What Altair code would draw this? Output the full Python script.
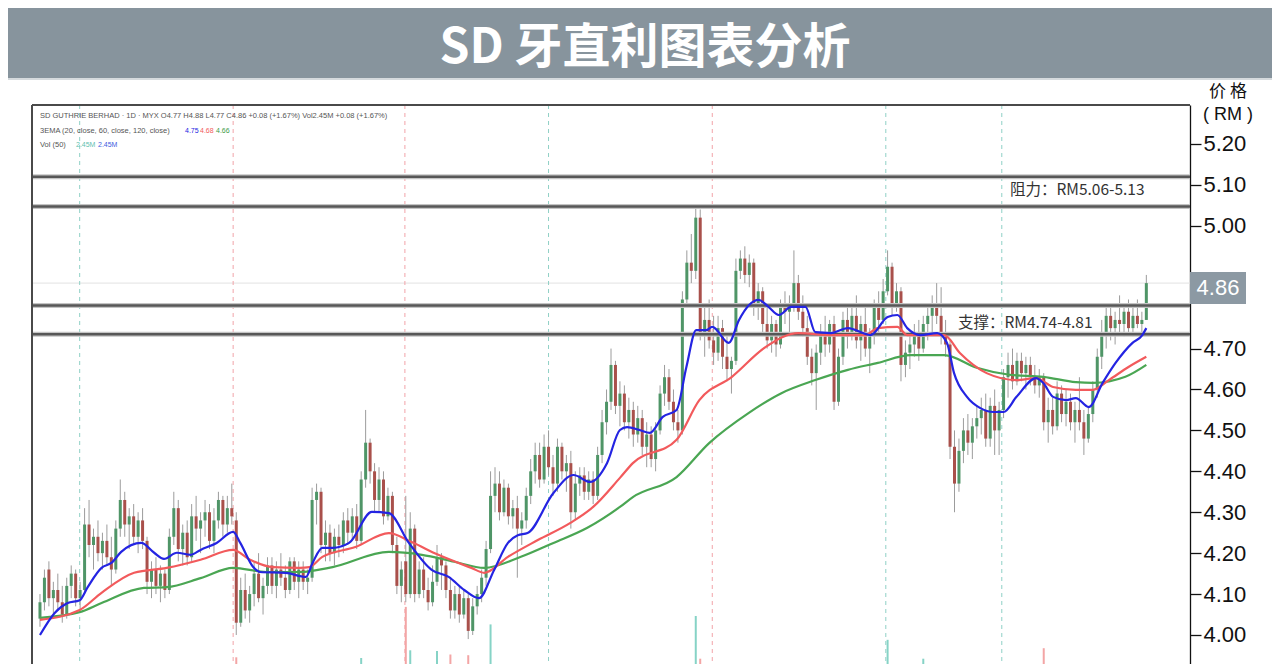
import altair as alt
import pandas as pd

# ---------------- data (prices in sen) ----------------
OPEN = [404,408,416,409,411,408,405,412,415,409,411,427,422,424,420,423,419,416,426,433,
        427,429,424,428,423,413,416,412,415,411,424,431,421,425,419,429,426,428,430,423,
        428,433,427,431,428,403,411,406,410,415,409,412,417,412,416,414,411,418,413,416,
        413,414,433,435,422,425,420,424,422,428,425,429,423,438,447,440,433,438,429,434,
        422,412,418,410,426,410,416,411,408,413,419,417,411,406,410,405,409,401,407,410,
        414,421,434,437,430,436,429,431,426,428,434,440,444,438,446,441,437,446,440,442,
        430,437,439,435,438,434,444,452,457,466,456,459,452,455,449,453,446,449,443,450,
        459,463,457,452,450,482,491,489,502,474,477,472,469,475,468,465,467,489,492,488,
        491,481,484,476,472,476,471,480,479,481,486,479,475,468,464,469,474,471,476,457,
        468,477,473,478,472,476,470,473,480,477,484,490,481,484,466,469,471,474,470,476,
        478,480,478,474,471,446,437,445,450,447,451,453,455,448,456,450,455,463,466,462,
        467,464,466,463,461,463,452,455,451,459,454,457,452,455,452,448,454,460,468,474,
        478,475,477,476,479,475,478,476,477]
HIGH = [410,416,418,413,415,412,414,417,416,413,431,433,426,428,425,427,424,428,438,435,
        431,432,430,431,424,418,419,417,416,426,435,433,427,428,432,434,430,433,432,431,
        435,434,434,437,430,414,415,412,418,420,414,419,419,418,420,417,419,419,418,418,
        416,436,437,436,428,427,426,427,430,431,431,432,440,455,448,442,441,440,436,435,
        424,418,434,430,427,418,419,414,417,422,420,418,414,412,412,411,410,409,412,416,
        423,440,441,440,438,437,433,434,430,436,443,447,447,449,450,444,448,447,444,445,
        440,441,441,440,440,446,455,460,470,467,462,461,458,457,456,455,452,451,452,461,
        466,465,460,455,484,494,498,505,504,480,482,478,478,477,473,468,492,494,495,493,
        492,486,485,480,478,477,482,484,483,494,488,483,478,470,471,476,478,477,478,470,
        479,481,480,483,478,481,475,482,484,487,494,491,486,485,472,474,476,477,478,480,
        483,486,485,477,472,450,448,453,454,453,456,458,459,458,460,457,465,469,470,469,
        469,468,468,466,465,464,458,458,462,461,460,459,457,463,455,456,462,470,477,480,
        480,479,483,481,482,480,482,479,488]
LOW = [402,406,407,404,406,403,404,409,407,406,410,419,416,418,416,417,412,415,424,424,
       421,422,420,421,410,409,410,408,409,410,422,418,417,417,418,423,420,424,421,420,
       426,424,425,427,400,402,404,403,407,408,405,410,410,409,412,409,410,411,409,411,
       410,413,427,420,418,418,417,419,420,422,423,421,422,436,437,430,430,427,428,420,
       410,408,408,409,408,409,409,406,407,412,411,409,404,404,403,404,399,400,405,408,
       412,420,430,428,429,427,426,414,422,426,432,437,436,437,439,434,435,438,435,426,
       428,434,433,433,432,433,442,449,455,454,451,450,448,446,447,444,441,441,440,449,
       456,455,450,447,449,480,486,487,472,468,470,466,467,465,462,459,466,487,486,485,
       478,477,474,470,469,468,470,476,474,479,477,473,466,461,455,466,468,469,455,456,
       466,470,472,470,467,468,464,471,474,476,483,478,479,462,463,465,468,467,469,472,
       474,476,471,468,443,430,435,442,444,443,448,449,446,446,444,444,453,458,460,461,
       462,460,461,459,458,450,447,449,450,452,451,450,447,450,444,447,452,458,465,470,
       472,471,474,473,474,473,475,474,477]
CLOSE = [408,414,409,411,408,405,412,415,409,411,427,422,424,420,423,419,416,426,433,427,
         429,424,428,423,413,416,412,415,411,424,431,421,425,419,429,426,428,430,423,428,
         433,427,431,429,403,411,406,410,415,409,412,417,412,416,414,411,418,413,416,413,
         414,433,435,422,425,420,424,422,428,425,429,423,438,447,440,433,438,429,434,422,
         412,416,410,426,410,416,411,408,413,419,417,411,406,410,405,409,401,407,410,414,
         421,434,437,430,436,429,431,426,428,434,440,444,438,446,441,437,446,440,442,430,
         437,439,435,438,434,444,452,457,466,456,459,452,455,449,453,446,449,443,450,459,
         463,457,452,450,482,491,489,502,474,477,472,469,475,468,465,467,489,492,488,491,
         481,484,476,472,476,471,480,479,481,486,479,475,468,464,469,474,471,476,457,468,
         477,473,478,472,476,470,473,480,477,484,490,481,484,466,469,471,474,470,476,478,
         480,478,474,471,446,437,445,450,447,451,453,455,448,456,450,455,463,466,462,467,
         464,466,463,461,463,452,455,451,459,454,457,452,455,452,448,454,460,468,474,478,
         475,477,476,479,475,478,476,477,486]

EMA20_I = [0,3.3,6.2,8.9,10.7,13.8,16,18.2,22.7,25.6,27.8,30.7,33.8,36,39.6,43.3,44.9,47.8,49.3,55.1,
           59.6,61.1,63.3,65.6,69.3,74.4,78.2,82.7,87.8,91.6,95.1,98.4,101.8,104.9,107.1,109.3,115.1,119.6,123.3,127.1,
           130,131.6,134.4,136.7,139.6,142.7,144.9,147.1,149.3,150.7,154.4,156.7,158.9,161.1,163.3,165.6,168.4,171.6,173.8,177.3,
           181.1,186.2,190,192.2,194.4,197.3,201.1,203.3,204.9,207.8,210.7,213.8,216,218.9,223.3,224.9,227.1,230,232.2,235.1,
           238.2,241.1,244.9,247.1,248]
EMA20_V = [4.00,4.054,4.078,4.085,4.117,4.164,4.176,4.203,4.225,4.201,4.186,4.201,4.196,4.208,4.225,4.252,4.225,4.166,4.154,4.152,
           4.142,4.176,4.213,4.213,4.225,4.301,4.298,4.225,4.159,4.142,4.110,4.090,4.159,4.225,4.244,4.249,4.347,4.391,4.374,4.420,
           4.501,4.508,4.501,4.494,4.533,4.550,4.655,4.745,4.745,4.753,4.714,4.770,4.806,4.819,4.802,4.782,4.802,4.802,4.740,4.738,
           4.750,4.733,4.777,4.782,4.750,4.733,4.738,4.714,4.640,4.582,4.555,4.545,4.545,4.582,4.628,4.616,4.582,4.574,4.579,4.557,
           4.616,4.665,4.714,4.733,4.75]
EMA60_I = [0,8.9,13.8,21.1,28.4,36,43.3,47.1,52.2,58.2,60.4,63.3,70.7,78.2,83.3,89.3,96.7,99.6,104.9,111.6,
           118.9,124,130,132.9,142.7,147.8,155.1,162.7,170,177.3,184.9,187.8,192.2,194.4,202.7,206.2,212.2,218.9,223.3,227.1,
           232.2,236,239.6,244,248]
EMA60_V = [4.037,4.061,4.103,4.152,4.164,4.184,4.208,4.184,4.166,4.164,4.166,4.191,4.215,4.249,4.227,4.196,4.164,4.152,4.191,4.232,
           4.274,4.313,4.384,4.420,4.477,4.574,4.631,4.704,4.738,4.733,4.733,4.750,4.753,4.733,4.733,4.689,4.640,4.623,4.628,4.606,
           4.599,4.599,4.623,4.655,4.68]
EMA120_I = [0,8.9,13.8,23.3,28.4,36,43.3,50.7,58.2,65.6,78.2,85.6,92.9,99.6,107.8,115.1,122.7,130,132.9,142.7,
            150,158.9,166.2,173.8,181.1,187.8,195.1,202.7,210,217.3,224.9,232.2,236,243.3,248]
EMA120_V = [4.042,4.056,4.078,4.115,4.117,4.139,4.164,4.154,4.154,4.166,4.203,4.196,4.179,4.164,4.191,4.225,4.262,4.313,4.337,4.386,
            4.469,4.543,4.591,4.623,4.648,4.665,4.684,4.684,4.653,4.636,4.631,4.618,4.616,4.631,4.66]

VOL_I = [44,72,82,83,89,92,96,101,147,148,153,190,198,225,234,248]
VOL_M = [6.1,6.0,13.3,7.1,7.0,6.5,6.4,10.8,12.0,5.9,4.7,8.6,5.9,7.4,4.1,2.45]

MARK_I = [8.9,43.3,81.8,114,150.7,189.6,215.6]
MARK_KIND = ["g","r","r","g","r","g","g"]

SR_LEVELS = [5.12,5.047,4.805,4.735]
LAST_PRICE = 4.86
BOX_TOP, BOX_BOT = 4.887, 4.809
TICKS = [4.0,4.1,4.2,4.3,4.4,4.5,4.6,4.7,5.0,5.1,5.2]

# ---------------- frames ----------------
W, H = 1158, 559
xs = alt.Scale(domain=[-0.667, 256.667], nice=False, zero=False)
ys = alt.Scale(domain=[3.9291, 5.2953], nice=False, zero=False)
vs = alt.Scale(domain=[5.143, 85.0], nice=False, zero=False)

n = len(CLOSE)
cd = pd.DataFrame({
    "i": list(range(n)),
    "o": [v / 100 for v in OPEN],
    "h": [v / 100 for v in HIGH],
    "l": [v / 100 for v in LOW],
    "c": [v / 100 for v in CLOSE],
})
cd["dir"] = ["up" if c >= o else "dn" for o, c in zip(OPEN, CLOSE)]

vol = pd.DataFrame({"i": VOL_I, "v": VOL_M})
vol["dir"] = [cd.loc[k, "dir"] for k in VOL_I]
vol["z"] = 0.0

marks = pd.DataFrame({"i": MARK_I, "k": MARK_KIND})
sr = pd.DataFrame({"p": SR_LEVELS})
lastp = pd.DataFrame({"p": [LAST_PRICE]})
box = pd.DataFrame({"t": [BOX_TOP], "b": [BOX_BOT]})
e20 = pd.DataFrame({"i": EMA20_I, "v": EMA20_V})
e60 = pd.DataFrame({"i": EMA60_I, "v": EMA60_V})
e120 = pd.DataFrame({"i": EMA120_I, "v": EMA120_V})
one = pd.DataFrame({"k": [0]})

X = alt.X("i:Q", scale=xs, axis=None)
dir_scale = alt.Scale(domain=["up", "dn"], range=["#4f9567", "#a9504b"])
vol_scale = alt.Scale(domain=["up", "dn"], range=["#86d3c6", "#f3a5a5"])


def txt(s, x, y, size, color, font="Liberation Sans", weight="normal", align="left",
        baseline="middle"):
    return alt.Chart(one).mark_text(
        text=s, fontSize=size, color=color, font=font, fontWeight=weight,
        align=align, baseline=baseline
    ).encode(x=alt.value(x), y=alt.value(y))


banner = alt.Chart(one).mark_rect(color="#87949d").encode(
    x=alt.value(-24), x2=alt.value(1240), y=alt.value(-97), y2=alt.value(-27))
banner_edge = alt.Chart(one).mark_rule(color="#d5dadd", strokeWidth=2).encode(
    x=alt.value(-24), x2=alt.value(1240), y=alt.value(-26))
title = txt("SD 牙直利图表分析", 613, -42, 48, "white", font="Noto Sans CJK SC",
            weight="bold", align="center", baseline="alphabetic")

top_border = alt.Chart(one).mark_rule(color="#4a4a4a", strokeWidth=2).encode(
    x=alt.value(0), x2=alt.value(W), y=alt.value(0))
left_border = alt.Chart(one).mark_rule(color="#4a4a4a", strokeWidth=2).encode(
    x=alt.value(0), y=alt.value(0), y2=alt.value(H))

last_line = alt.Chart(lastp).mark_rule(color="#e2e2e2", strokeWidth=1).encode(
    y=alt.Y("p:Q", scale=ys, axis=None), x=alt.value(0), x2=alt.value(W))

vlines = alt.Chart(marks).mark_rule(strokeDash=[4, 4], strokeWidth=1).encode(
    x=X, y=alt.value(0), y2=alt.value(H),
    color=alt.Color("k:N", scale=alt.Scale(domain=["g", "r"], range=["#8fd0c6", "#f2a3a8"]), legend=None))

vbars = alt.Chart(vol).mark_bar(size=2, clip=True).encode(
    x=X, y=alt.Y("z:Q", scale=vs, axis=None), y2="v:Q",
    color=alt.Color("dir:N", scale=vol_scale, legend=None))

wicks = alt.Chart(cd).mark_rule(color="#9c9c9c", strokeWidth=1).encode(
    x=X, y=alt.Y("l:Q", scale=ys, axis=None), y2="h:Q")

bodies = alt.Chart(cd).mark_bar(size=3).encode(
    x=X,
    y=alt.Y("o:Q", scale=ys, axis=alt.Axis(
        orient="right", values=TICKS, format=".2f", title=None, grid=False,
        labelFontSize=22, labelFont="Liberation Sans", labelColor="#111",
        tickColor="#111", tickSize=11, tickWidth=1.3, domainColor="#111",
        domainWidth=1.3, labelPadding=2, labelFlush=False)),
    y2="c:Q",
    color=alt.Color("dir:N", scale=dir_scale, legend=None))

sr_halo = alt.Chart(sr).mark_rule(color="#c4c4c4", strokeWidth=5).encode(
    y=alt.Y("p:Q", scale=ys, axis=None), x=alt.value(0), x2=alt.value(W))
sr_core = alt.Chart(sr).mark_rule(color="#575757", strokeWidth=2.5).encode(
    y=alt.Y("p:Q", scale=ys, axis=None), x=alt.value(0), x2=alt.value(W))


def ema(df, color):
    return alt.Chart(df).mark_line(color=color, strokeWidth=2.2, interpolate="monotone").encode(
        x=X, y=alt.Y("v:Q", scale=ys, axis=None))


l120 = ema(e120, "#4aa653")
l60 = ema(e60, "#f25a5c")
l20 = ema(e20, "#2424e2")

res_txt = txt("阻力：RM5.06-5.13", 978, 85, 15.5, "#333", font="Noto Sans CJK SC")
sup_txt = txt("支撑：RM4.74-4.81", 926, 218, 15.5, "#333", font="Noto Sans CJK SC")

LF = "Liberation Sans"
LS = 7.5
leg1 = txt("SD GUTHRIE BERHAD · 1D · MYX  O4.77  H4.88  L4.77  C4.86  +0.08 (+1.67%)  Vol2.45M  +0.08 (+1.67%)",
           8, 11, LS, "#555", font=LF)
leg2 = txt("3EMA (20, close, 60, close, 120, close)", 8, 26, LS, "#555", font=LF)
leg2a = txt("4.75", 153, 26, 7, "#2424e2", font=LF)
leg2b = txt("4.68", 168, 26, 7, "#f25a5c", font=LF)
leg2c = txt("4.66", 184, 26, 7, "#3e9a47", font=LF)
leg3 = txt("Vol (50)", 8, 40, LS, "#555", font=LF)
leg3a = txt("2.45M", 44, 40, 7, "#5fbfb0", font=LF)
leg3b = txt("2.45M", 66, 40, 7, "#4060e0", font=LF)

ax_t1 = txt("价 格", 1196, -13, 17, "#111", font="Noto Sans CJK SC", align="center")
ax_t2 = txt("( RM )", 1196, 10, 18, "#111", font="Liberation Sans", align="center")

pbox = alt.Chart(box).mark_rect(color="#8c99a3").encode(
    y=alt.Y("t:Q", scale=ys, axis=None), y2="b:Q", x=alt.value(W), x2=alt.value(W + 56))
ptxt = txt("4.86", W + 28, 183, 22, "white", align="center")

chart = alt.layer(
    banner, banner_edge, title, last_line, vlines, vbars, wicks, bodies, sr_halo, sr_core,
    l120, l60, l20, top_border, left_border, res_txt, sup_txt,
    leg1, leg2, leg2a, leg2b, leg2c, leg3, leg3a, leg3b, ax_t1, ax_t2, pbox, ptxt
).resolve_scale(y="independent", color="independent").properties(
    width=W, height=H,
    padding={"left": 24, "top": 97, "right": 82, "bottom": 0},
    autosize=alt.AutoSizeParams(type="none"),
    background="white",
).configure_view(stroke=None)

chart.save("out.html", embed_options={"renderer": "svg", "actions": False})
